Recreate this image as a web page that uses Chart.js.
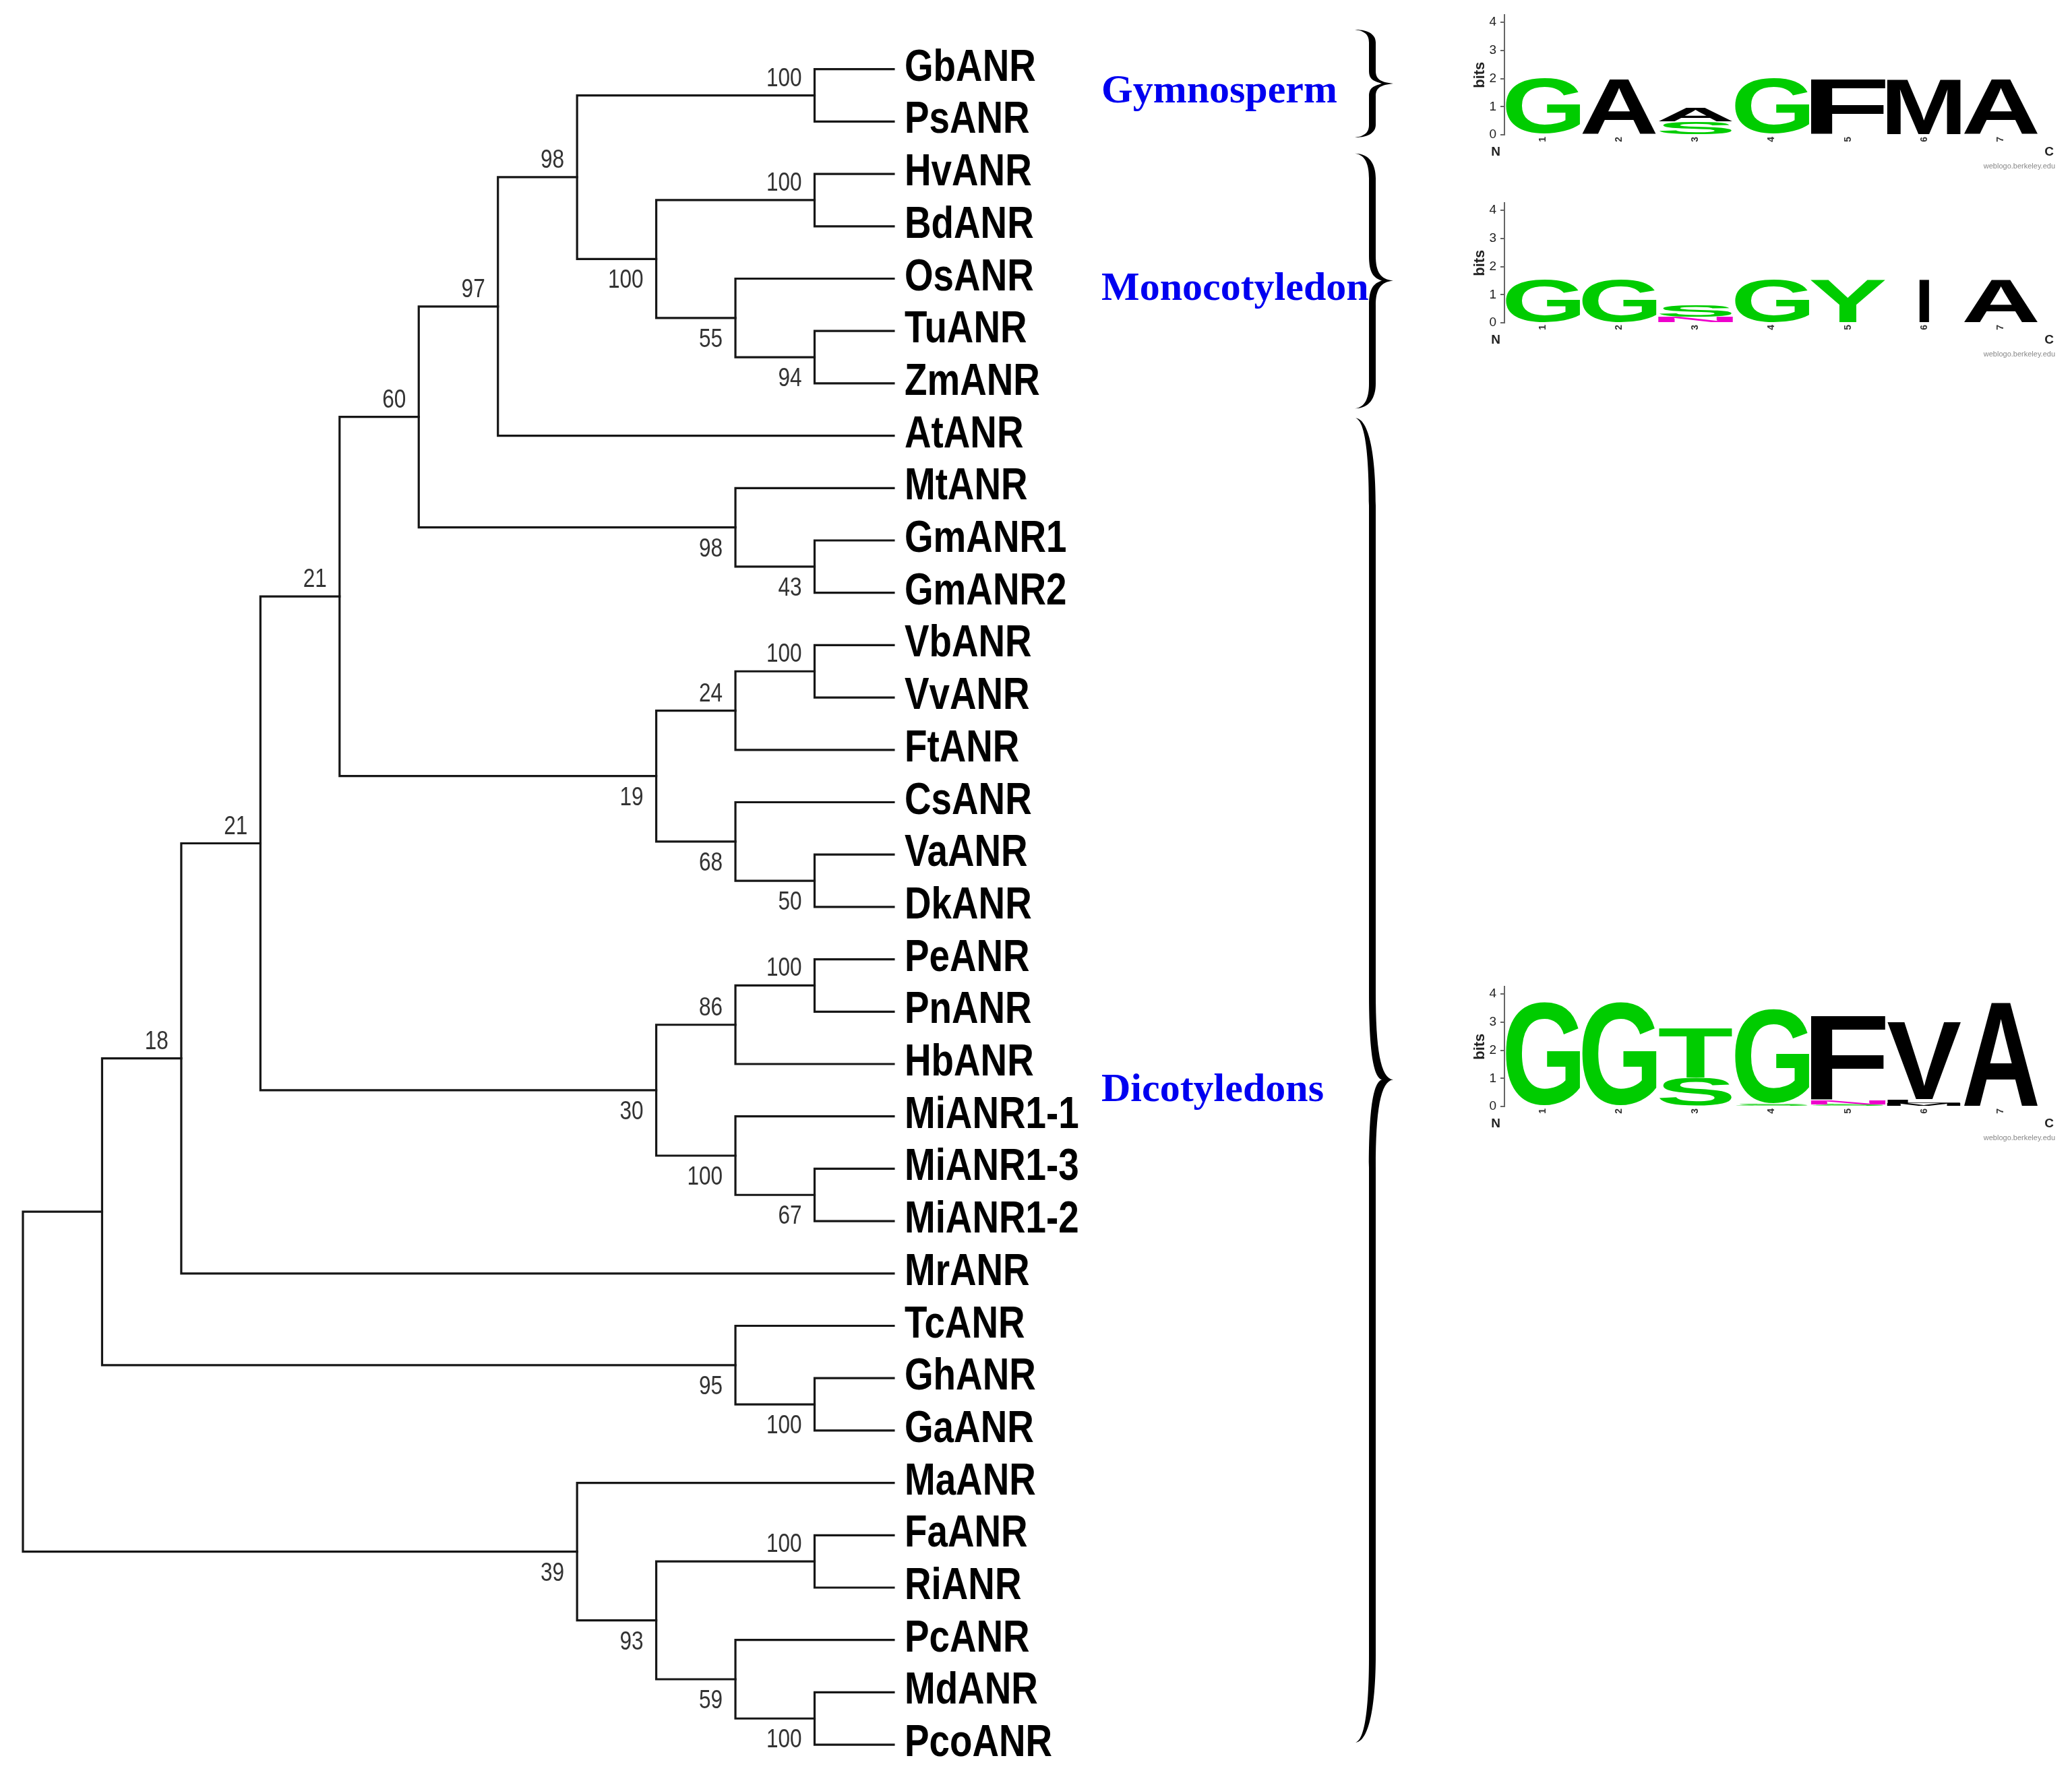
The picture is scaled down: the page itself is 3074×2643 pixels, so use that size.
<!DOCTYPE html>
<html><head><meta charset="utf-8">
<style>
html,body{margin:0;padding:0;background:#fff;width:3074px;height:2643px;overflow:hidden}
canvas{position:absolute;display:block;filter:blur(0.7px)}
#tree{left:0;top:0}
</style>
<script src="https://cdn.jsdelivr.net/npm/chart.js@4"></script>
</head><body>
<canvas id="tree" width="3074" height="2643"></canvas>
<canvas id="logoGym" width="924" height="256" style="left:2150px;top:5px"></canvas>
<canvas id="logoMono" width="924" height="256" style="left:2150px;top:283.5px"></canvas>
<canvas id="logoDicot" width="924" height="256" style="left:2150px;top:1447px"></canvas>
<script>
// ---------- data ----------
const leaves = ["GbANR","PsANR","HvANR","BdANR","OsANR","TuANR","ZmANR","AtANR","MtANR","GmANR1","GmANR2","VbANR","VvANR","FtANR","CsANR","VaANR","DkANR","PeANR","PnANR","HbANR","MiANR1-1","MiANR1-3","MiANR1-2","MrANR","TcANR","GhANR","GaANR","MaANR","FaANR","RiANR","PcANR","MdANR","PcoANR"];
const leafDepth = 11;
const cladeNames  = ["A","B","C","D","E","F","G","H","I","J","K","L","M","N","O","P","Q","R","S","T","U","V","W","X","Y","Z","AA","BB","CC","DD","EE","root"];
const cladeFirst  = ["GbANR","HvANR","TuANR","OsANR","B","A","F","GmANR1","MtANR","G","VbANR","K","VaANR","CsANR","L","J","PeANR","Q","MiANR1-3","MiANR1-1","R","P","V","GhANR","TcANR","W","FaANR","MdANR","PcANR","AA","MaANR","Z"];
const cladeSecond = ["PsANR","BdANR","ZmANR","C","D","E","AtANR","GmANR2","H","I","VvANR","FtANR","DkANR","M","N","O","PnANR","HbANR","MiANR1-2","S","T","U","MrANR","GaANR","X","Y","RiANR","PcoANR","BB","CC","DD","EE"];
const cladeDepth  = [10,10,10,9,8,7,6,10,9,5,10,9,10,9,8,4,10,9,10,9,8,3,2,10,9,1,10,10,9,8,7,0];
const cladeSupport= [100,100,94,55,100,98,97,43,98,60,100,24,50,68,19,21,100,86,67,100,30,21,18,100,95,null,100,100,59,93,39,null];
const groupNames  = ["Gymnosperm","Monocotyledon","Dicotyledons"];
const groupTop    = [-0.755,1.61,6.66];
const groupMid    = [0.275,4.04,19.3];
const groupBottom = [1.305,6.48,31.96];
const logoPositions = ["1","2","3","4","5","6","7"];
const gymLetters  = [["G"],["A"],["S","A"],["G"],["F"],["M"],["A"]];
const gymBits     = [[2.0],[2.0],[0.47,0.5],[2.0],[2.0],[2.0],[2.0]];
const monoLetters = [["G"],["G"],["N","S"],["G"],["Y"],["I"],["A"]];
const monoBits    = [[1.55],[1.55],[0.2,0.4],[1.55],[1.55],[1.55],[1.55]];
const dicotLetters= [["G"],["G"],["S","T"],["S","G"],["S","N","F"],["M","L","V"],["A"]];
const dicotBits   = [[3.75],[3.75],[1.02,1.78],[0.1,3.4],[0.07,0.17,3.04],[0.13,0.13,2.78],[3.75]];
const letterColours = {G:"#00cc00",S:"#00cc00",T:"#00cc00",Y:"#00cc00",N:"#ee00cc",A:"#000",F:"#000",M:"#000",V:"#000",I:"#000",L:"#000"};

// ---------- tree layout from the data ----------
const nodeInfo = {};
leaves.forEach((n,i)=>{nodeInfo[n]={y:i,d:leafDepth};});
function resolve(name){
  if(nodeInfo[name]) return nodeInfo[name];
  const k=cladeNames.indexOf(name);
  const a=resolve(cladeFirst[k]), b=resolve(cladeSecond[k]);
  nodeInfo[name]={y:(a.y+b.y)/2,d:cladeDepth[k],a,b,support:cladeSupport[k]};
  a.upper=true;
  b.upper=false;
  return nodeInfo[name];
}
resolve("root");
const edgeSets = cladeNames.map(n=>{
  const c=nodeInfo[n];
  return {data:[{x:c.a.d,y:c.a.y},{x:c.d,y:c.a.y},{x:c.d,y:c.b.y},{x:c.b.d,y:c.b.y}],
    showLine:true,borderColor:"#161616",borderWidth:3.2,pointRadius:0,tension:0,fill:false,borderJoinStyle:"miter",borderCapStyle:"square"};
});

function braceShape(ctx,t,m,b,r){
  const xL=2010,xS=2036,xT=2067,w=5;
  ctx.beginPath();
  ctx.moveTo(xL,t);
  ctx.bezierCurveTo(xS-4,t,xS+w,t+r*0.45,xS+w,t+r);
  ctx.lineTo(xS+w,m-r);
  ctx.bezierCurveTo(xS+w,m-r*0.35,xS+12,m-2,xT,m);
  ctx.bezierCurveTo(xS+12,m+2,xS+w,m+r*0.35,xS+w,m+r);
  ctx.lineTo(xS+w,b-r);
  ctx.bezierCurveTo(xS+w,b-r*0.45,xS-4,b,xL,b);
  ctx.bezierCurveTo(xS-10,b-2,xS-w,b-r*0.45,xS-w,b-r);
  ctx.lineTo(xS-w,m+r);
  ctx.bezierCurveTo(xS-w,m+r*0.3,xS+2,m+4,xS+14,m);
  ctx.bezierCurveTo(xS+2,m-4,xS-w,m-r*0.3,xS-w,m-r);
  ctx.lineTo(xS-w,t+r);
  ctx.bezierCurveTo(xS-w,t+r*0.45,xS-10,t+2,xL,t);
  ctx.closePath();
  ctx.fill();
}
function narrowText(ctx,text,px,py,squeeze){
  ctx.save();
  ctx.translate(px,py);
  ctx.scale(squeeze,1);
  ctx.fillText(text,0,0);
  ctx.restore();
}

const treeLabels = {
  id:"treeLabels",
  afterDatasetsDraw(chart){
    const {ctx,scales:{x,y}}=chart;
    ctx.save();
    ctx.textBaseline="alphabetic";
    // leaf names
    ctx.fillStyle="#000";
    ctx.font='bold 66px "Liberation Sans",sans-serif';
    ctx.textAlign="left";
    leaves.forEach((n,i)=>narrowText(ctx,n,1342,y.getPixelForValue(i)+17,0.83));
    // support values
    ctx.fillStyle="#333";
    ctx.font='38px "Liberation Sans",sans-serif';
    ctx.textAlign="right";
    cladeNames.forEach(n=>{
      const c=nodeInfo[n];
      if(c.support==null) return;
      const px=x.getPixelForValue(c.d)-19, py=y.getPixelForValue(c.y);
      narrowText(ctx,String(c.support),px,c.upper? py-14 : py+43,0.83);
    });
    // group names
    ctx.fillStyle="#0000f0";
    ctx.font='bold 60px "Liberation Serif",serif';
    ctx.textAlign="left";
    groupNames.forEach((g,i)=>ctx.fillText(g,1634,y.getPixelForValue(groupMid[i])+ (i===2?32:28)));
    // braces
    ctx.fillStyle="#000";
    const curve=[19,37,130];
    groupNames.forEach((g,i)=>{
      braceShape(ctx,y.getPixelForValue(groupTop[i]),y.getPixelForValue(groupMid[i]),y.getPixelForValue(groupBottom[i]),curve[i]);
    });
    ctx.restore();
  }
};

new Chart(document.getElementById("tree"),{
  type:"scatter",
  data:{datasets:edgeSets},
  plugins:[treeLabels],
  options:{
    responsive:false,animation:false,devicePixelRatio:1,
    layout:{padding:0},
    plugins:{legend:{display:false},tooltip:{enabled:false}},
    scales:{
      x:{type:"linear",display:false,min:-34/117.45,max:(3074-34)/117.45},
      y:{type:"linear",display:false,reverse:true,min:-102.7/77.7,max:(2643-102.7)/77.7}
    }
  }
});

// ---------- sequence logos ----------
const logoLetters = {
  id:"logoLetters",
  afterDatasetsDraw(chart,args,opts){
    const {ctx,chartArea:a}=chart;
    ctx.save();
    const probe='bold 300px "Liberation Sans",sans-serif';
    chart.data.datasets.forEach((ds,k)=>{
      const meta=chart.getDatasetMeta(k);
      meta.data.forEach((el,i)=>{
        const ch=ds.letters[i];
        if(!ch) return;
        const top=el.y,base=el.base;
        ctx.font=probe;ctx.textBaseline="alphabetic";ctx.textAlign="left";
        const m=ctx.measureText(ch);
        const gw=m.actualBoundingBoxLeft+m.actualBoundingBoxRight;
        const gh=m.actualBoundingBoxAscent+m.actualBoundingBoxDescent;
        const tw=(ch==="I"?0.135:0.985)*el.width, th=base-top;
        ctx.save();
        ctx.translate(el.x-tw/2,base);
        ctx.scale(tw/gw,th/gh);
        ctx.fillStyle=letterColours[ch]||"#000";
        ctx.fillText(ch,m.actualBoundingBoxLeft,-m.actualBoundingBoxDescent);
        ctx.restore();
      });
    });
    ctx.fillStyle="#222";
    ctx.textBaseline="middle";ctx.textAlign="center";
    ctx.font='bold 19px "Liberation Sans",sans-serif';
    ctx.fillText("N",a.left-13,a.bottom+26);
    ctx.fillText("C",a.right+15,a.bottom+26);
    ctx.fillStyle="#888";ctx.textAlign="right";
    ctx.font='11px "Liberation Sans",sans-serif';
    ctx.fillText("weblogo.berkeley.edu",a.right+24,a.bottom+47);
    ctx.restore();
  }
};
function drawLogo(id,letters,bits){
  const layers=Math.max(...letters.map(l=>l.length));
  const sets=[];
  for(let k=0;k<layers;k++){
    sets.push({data:bits.map(b=>b[k]||0),letters:letters.map(l=>l[k]||""),
      backgroundColor:"rgba(0,0,0,0)",borderWidth:0,barPercentage:1,categoryPercentage:1});
  }
  new Chart(document.getElementById(id),{
    type:"bar",
    data:{labels:logoPositions,datasets:sets},
    plugins:[logoLetters],
    options:{
      responsive:false,animation:false,devicePixelRatio:1,
      layout:{autoPadding:false,padding:{top:10,right:49,bottom:0,left:0}},
      plugins:{legend:{display:false},tooltip:{enabled:false}},
      scales:{
        x:{stacked:true,border:{display:false},grid:{display:false,drawTicks:false},
           afterFit(s){s.height=61;},
           ticks:{color:"#333",font:{size:14,family:"Liberation Sans",weight:"bold"},minRotation:90,maxRotation:90,padding:3,autoSkip:false}},
        y:{stacked:true,min:0,max:4.26,afterFit(s){s.width=82;},
           afterBuildTicks(s){s.ticks=[0,1,2,3,4].map(v=>({value:v}));},
           border:{display:true,color:"#666",width:2},
           grid:{drawOnChartArea:false,drawTicks:true,tickLength:6,color:"#666",lineWidth:2},
           ticks:{color:"#222",font:{size:19,family:"Liberation Sans"},padding:6,callback:v=>String(v)},
           title:{display:true,text:"bits",color:"#222",font:{size:22,family:"Liberation Sans",weight:"bold"},padding:{top:33,bottom:0}}}
      }
    }
  });
}
drawLogo("logoGym",gymLetters,gymBits);
drawLogo("logoMono",monoLetters,monoBits);
drawLogo("logoDicot",dicotLetters,dicotBits);
</script>
</body></html>
